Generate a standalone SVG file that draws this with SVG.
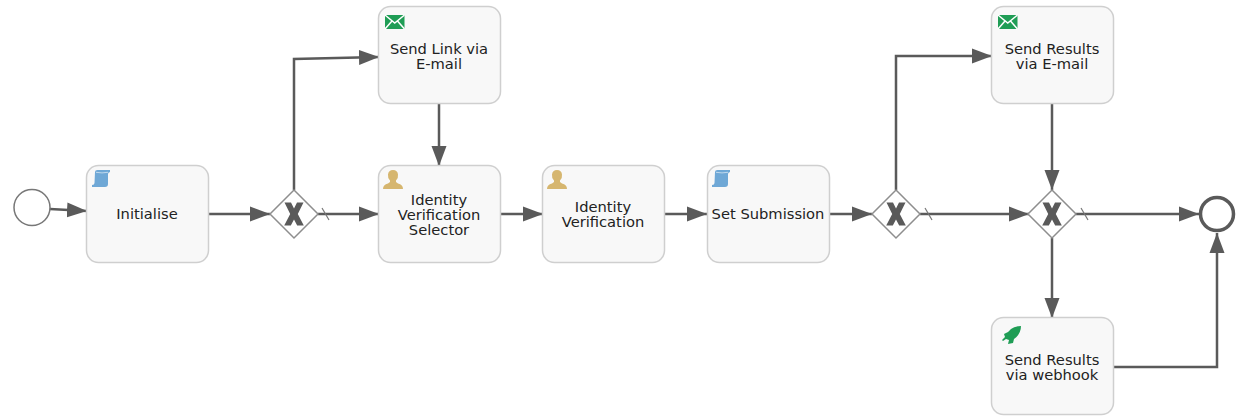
<svg xmlns="http://www.w3.org/2000/svg" width="1242" height="416" viewBox="0 0 1242 416">
<defs>
<marker id="arr" markerUnits="userSpaceOnUse" markerWidth="21" markerHeight="16" refX="20" refY="8" orient="auto"><path d="M0 0.500L20 8L0 15.500Z" fill="#5a5a5a"/></marker>
<g id="scroll"><path d="M3 2Q3 0 5.500 0H18V2Q16 2.500 16 4V14Q16 17 13 17H0V15Q2.500 15 2.500 13Z" fill="#6fa8d6"/><path d="M4 2.300Q10 3.500 16 2.300" stroke="#fff" stroke-width=".8" opacity=".7" fill="none"/></g>
<g id="user"><path d="M0 19Q0 14.500 5 13.500L7 12V10.500Q4.500 8 5 4.500Q5.500 0 10 0Q14.500 0 15 4.500Q15.500 8 13 10.500V12L15 13.500Q20 14.500 20 19Z" fill="#d6b66f"/></g>
<g id="mail"><rect width="19.500" height="14" fill="#1f9d55"/><path d="M0 0L9.750 8L19.500 0M0 14L7 6M19.500 14L12.500 6" fill="none" stroke="#fff" stroke-width="1.500"/></g>
<g id="gwx"><path d="M0 -24L24 0L0 24L-24 0Z" fill="#fff" stroke="#8e8e8e" stroke-width="1.500"/><path d="M-9.500 -11.500H-3L0 -5.500L3 -11.500H9.500L3.800 0L9.800 11.500H3.200L0 5.500L-3.200 11.500H-9.800L-3.800 0Z" fill="#5a5a5a"/></g>
</defs>
<style>
.task{fill:#f8f8f8;stroke:#cfcfcf;stroke-width:1.500}
.c{fill:none;stroke:#5a5a5a;stroke-width:2.500;marker-end:url(#arr)}
.s{stroke:#777;stroke-width:1.200}
text{font-family:"DejaVu Sans",sans-serif;font-size:14.700px;fill:#222;text-anchor:middle}
</style>
<g id="connectors">
<path class="c" d="M50 209L87 211"/>
<path class="c" d="M208 214H270"/>
<path class="c" d="M294 190V59L379 57"/>
<path class="c" d="M318 214H379"/>
<path class="s" d="M322 208L329 220"/>
<path class="c" d="M439 104V166"/>
<path class="c" d="M500 214H543"/>
<path class="c" d="M664 214H707"/>
<path class="c" d="M829 214H872"/>
<path class="c" d="M896 190V56H992"/>
<path class="c" d="M920 214H1029"/>
<path class="s" d="M925 208L932 220"/>
<path class="c" d="M1052 104V190"/>
<path class="c" d="M1076 214H1199"/>
<path class="s" d="M1081 208L1088 220"/>
<path class="c" d="M1052 238V318"/>
<path class="c" d="M1113 367H1217V233"/>
</g>
<g id="start"><circle cx="32" cy="207.500" r="18" fill="#fff" stroke="#777" stroke-width="1.500"/></g>
<g id="initialise"><rect class="task" x="86.500" y="165.500" width="122" height="97" rx="12"/><use href="#scroll" x="92" y="170"/><text x="147" y="219">Initialise</text></g>
<g id="gw1"><use href="#gwx" x="294" y="214"/></g>
<g id="sendlink"><rect class="task" x="378.500" y="6.500" width="122" height="97" rx="12"/><use href="#mail" x="385" y="15"/><text x="439" y="54">Send Link via</text><text x="439" y="69">E-mail</text></g>
<g id="selector"><rect class="task" x="378.500" y="165.500" width="122" height="97" rx="12"/><use href="#user" x="383" y="170"/><text x="439" y="204.500">Identity</text><text x="439" y="219.500">Verification</text><text x="439" y="234.500">Selector</text></g>
<g id="verification"><rect class="task" x="542.500" y="165.500" width="122" height="97" rx="12"/><use href="#user" x="547" y="170"/><text x="603" y="212">Identity</text><text x="603" y="227">Verification</text></g>
<g id="setsubmission"><rect class="task" x="707.500" y="165.500" width="122" height="97" rx="12"/><use href="#scroll" x="712" y="170"/><text x="768" y="219">Set Submission</text></g>
<g id="gw2"><use href="#gwx" x="896" y="214"/></g>
<g id="gw3"><use href="#gwx" x="1052" y="214"/></g>
<g id="sendresults"><rect class="task" x="991.500" y="6.500" width="122" height="97" rx="12"/><use href="#mail" x="998" y="15"/><text x="1052" y="54">Send Results</text><text x="1052" y="69">via E-mail</text></g>
<g id="webhook"><rect class="task" x="991.500" y="317.500" width="122" height="97" rx="12"/><path d="M1021 326Q1021 334 1014 339L1013 343L1008 344L1009 340L1006 339L1003 341L1002 340L1005 337L1004 334L1008 332L1011 329Q1015 326 1021 326Z" fill="#1f9d55"/><text x="1052" y="365">Send Results</text><text x="1052" y="380">via webhook</text></g>
<g id="end"><circle cx="1217" cy="214" r="16.500" fill="#fff" stroke="#5a5a5a" stroke-width="3.500"/></g>
</svg>
